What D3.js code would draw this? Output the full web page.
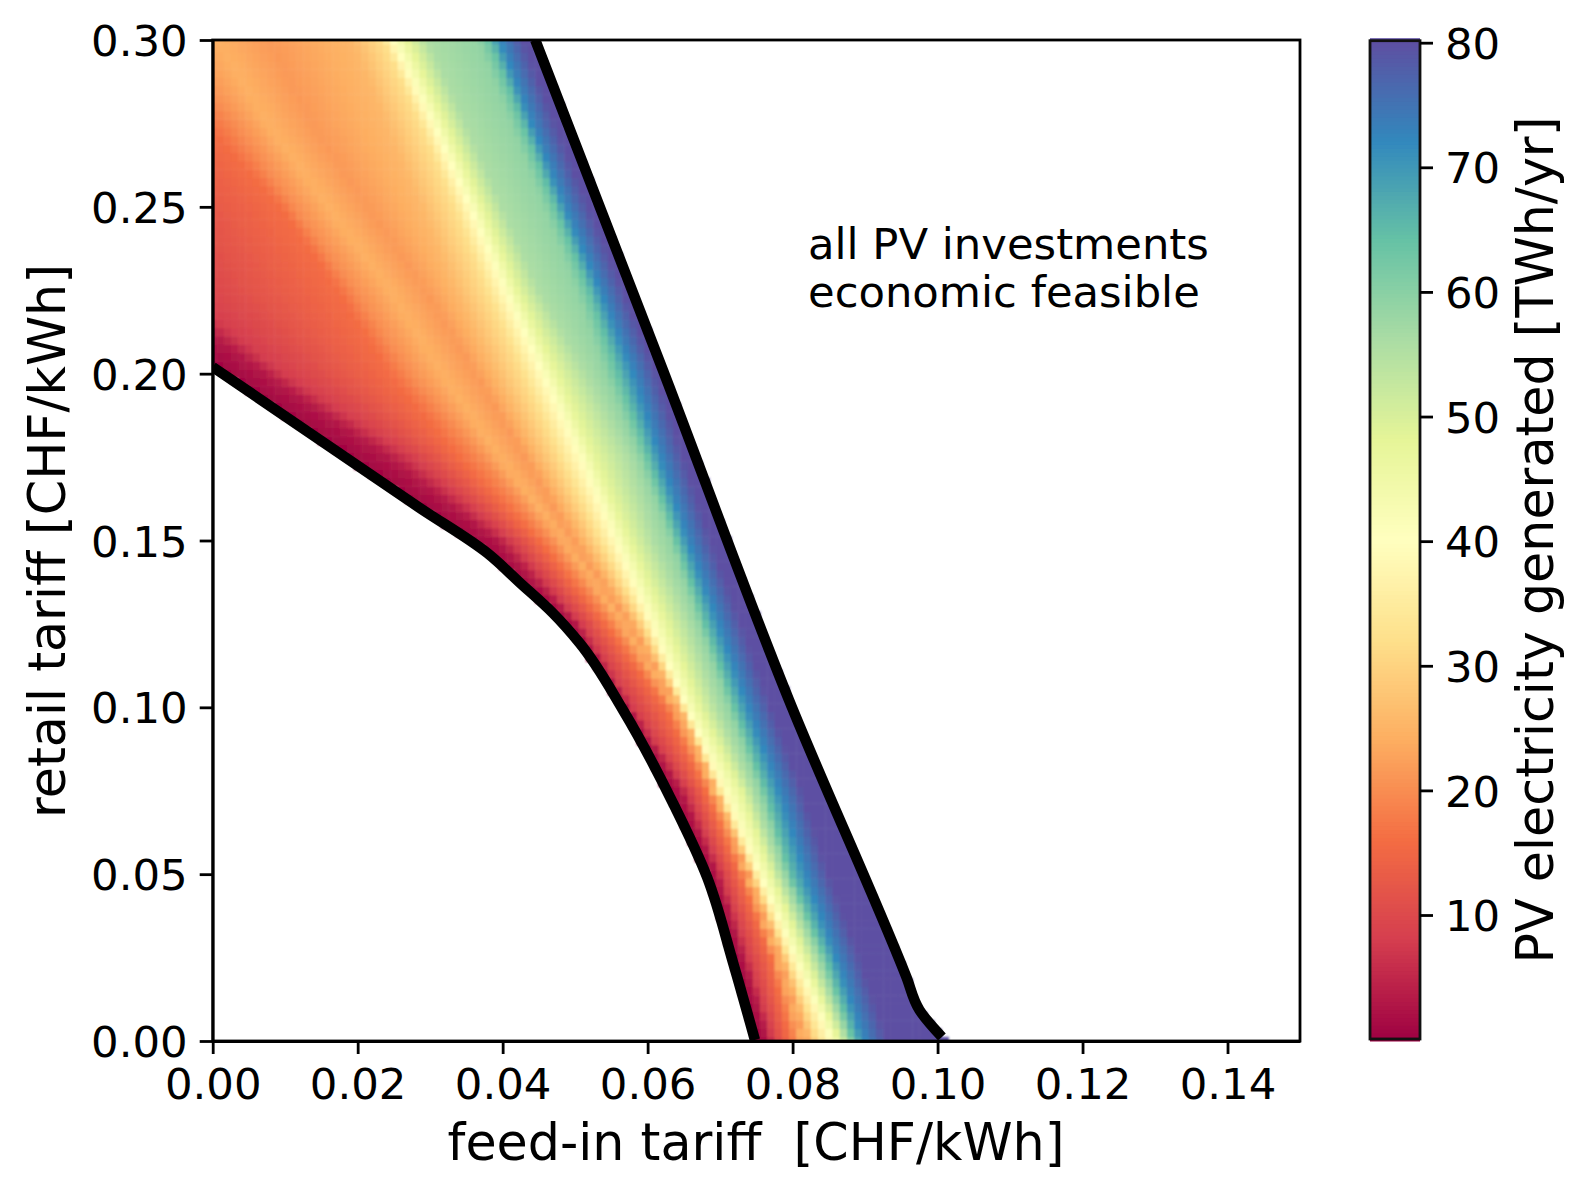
<!DOCTYPE html>
<html>
<head>
<meta charset="utf-8">
<script src="https://cdn.jsdelivr.net/npm/d3@7"></script>
<style>
  html, body { margin: 0; background: #fff; }
  text { font-family: "DejaVu Sans", sans-serif; fill: #000; }
  .axis text { font-size: 43.4px; }
  .axis path, .axis line { stroke: #000; stroke-width: 2.8px; }
</style>
</head>
<body>
<svg id="chart" width="1577" height="1188"></svg>
<script>
'use strict';

const retailLevels = [0.30, 0.275, 0.25, 0.225, 0.20, 0.175, 0.15, 0.125, 0.10, 0.075, 0.05, 0.025, 0];

// feed-in tariff where the generation reaches a level, one value per retail level
const feedAt0 = [-0.0662, -0.0493, -0.0324, -0.0155, 0.0014, 0.0182, 0.0353, 0.0483, 0.0563, 0.0626, 0.0680, 0.0716, 0.0750];
const feedAt3 = [-0.0480, -0.0320, -0.0200, -0.0085, 0.0070, 0.0240, 0.0392, 0.0500, 0.0574, 0.0645, 0.0695, 0.0732, 0.0766];
const feedAt8 = [-0.0363, -0.0211, -0.0125, -0.0045, 0.0100, 0.0275, 0.0412, 0.0510, 0.0580, 0.0656, 0.0703, 0.0740, 0.0774];
const feedAt16 = [-0.0114, -0.0008, 0.0094, 0.0173, 0.0245, 0.0340, 0.0451, 0.0542, 0.0624, 0.0680, 0.0727, 0.0770, 0.0796];
const feedAtLow = [-0.0073, 0.0031, 0.0113, 0.0196, 0.0272, 0.0371, 0.0468, 0.0555, 0.0632, 0.0687, 0.0733, 0.0774, 0.0806];
const feedAtRay = [0.0007, 0.0076, 0.0159, 0.0245, 0.0316, 0.0396, 0.0485, 0.0566, 0.0638, 0.0690, 0.0735, 0.0778, 0.0813];
const feedAtDip = [0.0079, 0.0137, 0.0214, 0.0293, 0.0363, 0.0431, 0.0498, 0.0576, 0.0642, 0.0693, 0.0740, 0.0782, 0.0816];
const feedAtRise = [0.0192, 0.0238, 0.0286, 0.0334, 0.0389, 0.0449, 0.0513, 0.0584, 0.0645, 0.0696, 0.0742, 0.0787, 0.0824];
const feedAt32 = [0.0235, 0.0286, 0.0333, 0.0378, 0.0428, 0.0479, 0.0534, 0.0595, 0.0649, 0.0698, 0.0747, 0.0793, 0.0835];
const feedAt40 = [0.0249, 0.0304, 0.0355, 0.0403, 0.0455, 0.0507, 0.0556, 0.0606, 0.0654, 0.0707, 0.0755, 0.0803, 0.0854];
const feedAt48 = [0.0269, 0.0322, 0.0373, 0.0421, 0.0476, 0.0527, 0.0576, 0.0627, 0.0672, 0.0729, 0.0771, 0.0818, 0.0865];
const feedAt56 = [0.0297, 0.0349, 0.0400, 0.0451, 0.0516, 0.0575, 0.0610, 0.0658, 0.0697, 0.0745, 0.0784, 0.0832, 0.0875];
const feedAt59 = [0.0366, 0.0411, 0.0457, 0.0502, 0.0542, 0.0589, 0.0632, 0.0671, 0.0712, 0.0755, 0.0791, 0.0838, 0.0879];
const feedAt64 = [0.0382, 0.0427, 0.0472, 0.0518, 0.0558, 0.0600, 0.0640, 0.0679, 0.0720, 0.0762, 0.0796, 0.0845, 0.0884];
const feedAt72 = [0.0396, 0.0440, 0.0486, 0.0534, 0.0580, 0.0617, 0.0655, 0.0697, 0.0738, 0.0781, 0.0817, 0.0860, 0.0898];
const feedAt80 = [0.0428, 0.0472, 0.0518, 0.0566, 0.0612, 0.0649, 0.0687, 0.0729, 0.0770, 0.0813, 0.0849, 0.0892, 0.0930];

const bandLevels = [0, 3, 8, 16, 20, 24.5, 21.5, 25.5, 32, 40, 48, 56, 59, 64, 72, 80];
const bandFeeds = [feedAt0, feedAt3, feedAt8, feedAt16, feedAtLow, feedAtRay, feedAtDip, feedAtRise, feedAt32, feedAt40,
  feedAt48, feedAt56, feedAt59, feedAt64, feedAt72, feedAt80];

// the two black limits of the feasible region
const lowerFeed = [0, 0.0286, 0.0379, 0.0424, 0.0469, 0.0506, 0.0566, 0.0635, 0.0682, 0.0718, 0.0748];
const lowerRetail = [0.2020, 0.1597, 0.1462, 0.1373, 0.1283, 0.1193, 0.0992, 0.0713, 0.0491, 0.0234, 0.0003];
const upperFeed = [0.0445, 0.0621, 0.0795, 0.0957, 0.0975, 0.1006];
const upperRetail = [0.30, 0.2011, 0.1022, 0.0192, 0.0093, 0.0012];

const feedTicks = [0, 0.02, 0.04, 0.06, 0.08, 0.10, 0.12, 0.14];
const retailTicks = [0, 0.05, 0.10, 0.15, 0.20, 0.25, 0.30];
const colorTicks = [10, 20, 30, 40, 50, 60, 70, 80];
const colorMin = 0.05;
const colorMax = 80.16;

const feedStep = 0.001;
const retailStep = 0.0025;

let svg = d3.select('#chart');

let x = d3.scaleLinear().domain([0, 0.15]).range([212.7, 1300]);
let y = d3.scaleLinear().domain([0, 0.30]).range([1041, 40]);
let barY = d3.scaleLinear().domain([colorMin, colorMax]).range([1039, 40.7]);

let spectral = d3.schemeSpectral[11];
let color = d3.scaleLinear()
  .domain(spectral.map((c, i) => colorMin + (colorMax - colorMin) * i / 10))
  .range(spectral)
  .clamp(true);

let feedScales = bandFeeds.map((feeds) => d3.scaleLinear().domain(retailLevels).range(feeds));
let lowerLimit = d3.scaleLinear().domain(lowerRetail).range(lowerFeed);
let upperLimit = d3.scaleLinear().domain(upperRetail).range(upperFeed);

let cells = [];
d3.range(0, 121).forEach((j) => {
  let retail = j * retailStep;
  let knots = feedScales.map((s) => s(retail));
  let row = d3.scaleLinear().domain(knots).range(bandLevels).clamp(true);
  let first = lowerLimit(retail);
  let last = upperLimit(retail);
  d3.range(0, 151).forEach((i) => {
    let feed = i * feedStep;
    if (feed >= first && feed <= last) {
      cells.push({ feed: feed, retail: retail, value: row(feed) });
    }
  });
});

let defs = svg.append('defs');
defs.append('clipPath').attr('id', 'plot-clip')
  .append('rect')
  .attr('x', x(0)).attr('y', y(0.30))
  .attr('width', x(0.15) - x(0)).attr('height', y(0) - y(0.30));
defs.append('filter').attr('id', 'soft')
  .append('feGaussianBlur').attr('stdDeviation', 0.9);

let plot = svg.append('g').attr('clip-path', 'url(#plot-clip)');
let cellW = x(feedStep) - x(0);
let cellH = y(0) - y(retailStep);

plot.append('g').attr('filter', 'url(#soft)')
  .selectAll('rect')
  .data(cells)
  .join('rect')
  .attr('x', (d) => x(d.feed) - cellW / 2)
  .attr('y', (d) => y(d.retail) - cellH / 2)
  .attr('width', cellW + 0.5)
  .attr('height', cellH + 0.5)
  .attr('fill', (d) => color(d.value));

let limitLine = d3.line().x((d) => x(d[0])).y((d) => y(d[1])).curve(d3.curveMonotoneY);
[d3.zip(lowerFeed, lowerRetail), d3.zip(upperFeed, upperRetail)].forEach((pts) => {
  plot.append('path')
    .attr('d', limitLine(pts))
    .attr('fill', 'none')
    .attr('stroke', '#000')
    .attr('stroke-width', 10.5)
    .attr('stroke-linejoin', 'round');
});

// frame of the plot
svg.append('g').attr('class', 'axis')
  .attr('transform', 'translate(0,' + y(0) + ')')
  .call(d3.axisBottom(x).tickValues(feedTicks).tickFormat(d3.format('.2f')).tickSize(13).tickPadding(14).tickSizeOuter(0));
svg.append('g').attr('class', 'axis y-ticks')
  .attr('transform', 'translate(' + x(0) + ',0)')
  .call(d3.axisLeft(y).tickValues(retailTicks).tickFormat(d3.format('.2f')).tickSize(13).tickPadding(12).tickSizeOuter(0));
svg.append('rect')
  .attr('x', x(0)).attr('y', y(0.30))
  .attr('width', x(0.15) - x(0)).attr('height', y(0) - y(0.30))
  .attr('fill', 'none').attr('stroke', '#000').attr('stroke-width', 2.8);

// colour bar
let barLeft = 1370;
let barRight = 1420;
let barValues = d3.range(0, 256).map((i) => colorMin + (colorMax - colorMin) * i / 255);
svg.append('g').selectAll('rect')
  .data(barValues)
  .join('rect')
  .attr('x', barLeft)
  .attr('width', barRight - barLeft)
  .attr('y', (d) => barY(d) - 2.5)
  .attr('height', 5)
  .attr('fill', (d) => color(d));
svg.append('rect')
  .attr('x', barLeft).attr('y', barY(colorMax))
  .attr('width', barRight - barLeft).attr('height', barY(colorMin) - barY(colorMax))
  .attr('fill', 'none').attr('stroke', '#111').attr('stroke-width', 2.8);
let barAxis = svg.append('g').attr('class', 'axis y-ticks')
  .attr('transform', 'translate(' + barRight + ',0)')
  .call(d3.axisRight(barY).tickValues(colorTicks).tickSize(13).tickPadding(12).tickSizeOuter(0));
barAxis.select('.domain').remove();
svg.selectAll('.y-ticks text').attr('dy', '0.36em');

// labels
svg.append('text')
  .attr('x', 756).attr('y', 1160)
  .attr('text-anchor', 'middle').attr('font-size', 50.7)
  .style('white-space', 'pre')
  .text('feed-in tariff  [CHF/kWh]');
svg.append('text')
  .attr('transform', 'translate(65,541) rotate(-90)')
  .attr('text-anchor', 'middle').attr('font-size', 50.7)
  .text('retail tariff [CHF/kWh]');
svg.append('text')
  .attr('transform', 'translate(1553,540) rotate(-90)')
  .attr('text-anchor', 'middle').attr('font-size', 50.7)
  .text('PV electricity generated [TWh/yr]');
svg.append('text')
  .attr('x', 808).attr('y', 259).attr('font-size', 43.3)
  .text('all PV investments');
svg.append('text')
  .attr('x', 808).attr('y', 307).attr('font-size', 43.3)
  .text('economic feasible');
</script>
</body>
</html>
